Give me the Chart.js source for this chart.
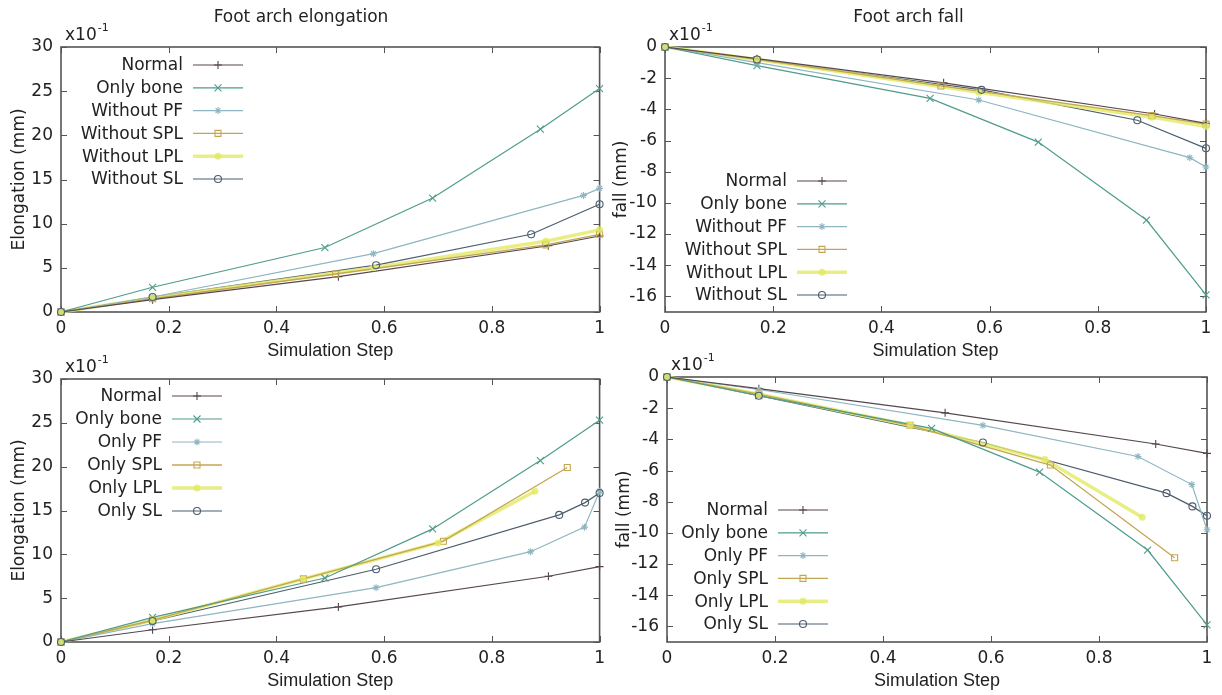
<!DOCTYPE html>
<html lang="en">
<head>
<meta charset="UTF-8">
<title>Foot arch elongation / fall</title>
<script src="https://cdn.jsdelivr.net/npm/chart.js"></script>
<style>
    * { margin: 0; padding: 0; box-sizing: border-box; }
    body { background: #fff; width: 1222px; height: 695px; position: relative; overflow: hidden; }
    .panel { position: absolute; width: 611px; height: 365px; }
</style>
</head>
<body>
<div class="panel" style="left:0;top:0"><canvas id="elongWithout"></canvas></div>
<div class="panel" style="left:611px;top:0"><canvas id="fallWithout"></canvas></div>
<div class="panel" style="left:0;top:330px"><canvas id="elongOnly"></canvas></div>
<div class="panel" style="left:611px;top:330px"><canvas id="fallOnly"></canvas></div>

<script>
// ---- data (values in units of x10^-1 mm) ----
const xTicks = [0, 0.2, 0.4, 0.6, 0.8, 1];
const xTickLabels = ['0', '0.2', '0.4', '0.6', '0.8', '1'];
const elongTicks = [0, 5, 10, 15, 20, 25, 30];
const fallTicks = [0, -2, -4, -6, -8, -10, -12, -14, -16];

const withoutLabels = ['Normal', 'Only bone', 'Without PF', 'Without SPL', 'Without LPL', 'Without SL'];
const onlyLabels = ['Normal', 'Only bone', 'Only PF', 'Only SPL', 'Only LPL', 'Only SL'];

// shared cases
const normalSteps = [0, 0.17, 0.515, 0.905, 1];
const normalElong = [0, 1.4, 4.0, 7.5, 8.6];
const normalFall = [0, -0.75, -2.3, -4.3, -4.9];

const boneSteps = [0, 0.17, 0.49, 0.69, 0.89, 1];
const boneElong = [0, 2.8, 7.3, 12.9, 20.7, 25.3];
const boneFall = [0, -1.2, -3.3, -6.1, -11.1, -15.9];

// "Without" cases
const woPfSteps = [0, 0.17, 0.58, 0.97, 1];
const woPfElong = [0, 1.7, 6.6, 13.2, 14.0];
const woPfFall = [0, -1.0, -3.4, -7.1, -7.7];

const woSplSteps = [0, 0.17, 0.51, 0.9, 1];
const woSplElong = [0, 1.5, 4.3, 7.6, 8.8];
const woSplFall = [0, -0.8, -2.5, -4.4, -4.95];

const woLplSteps = [0, 0.17, 0.58, 0.9, 1];
const woLplElong = [0, 1.6, 5.0, 8.0, 9.3];
const woLplFall = [0, -0.8, -2.9, -4.5, -5.1];

const woSlSteps = [0, 0.17, 0.585, 0.873, 1];
const woSlElong = [0, 1.7, 5.3, 8.8, 12.2];
const woSlFall = [0, -0.8, -2.75, -4.7, -6.5];

// "Only" cases
const onPfSteps = [0, 0.17, 0.585, 0.872, 0.972, 1];
const onPfElong = [0, 2.1, 6.2, 10.3, 13.1, 17.2];
const onPfFall = [0, -0.8, -3.1, -5.1, -6.9, -9.8];

const onSplSteps = [0, 0.17, 0.45, 0.71, 0.94];
const onSplElong = [0, 2.5, 7.2, 11.5, 19.9];
const onSplFall = [0, -1.1, -3.1, -5.65, -11.6];

const onLplSteps = [0, 0.17, 0.45, 0.7, 0.88];
const onLplElong = [0, 2.5, 7.2, 11.3, 17.2];
const onLplFall = [0, -1.1, -3.1, -5.3, -9.0];

const onSlSteps = [0, 0.17, 0.585, 0.925, 0.973, 1];
const onSlElong = [0, 2.4, 8.3, 14.5, 15.9, 17.0];
const onSlFall = [0, -1.2, -4.2, -7.45, -8.3, -8.9];

// ---- styles ----
const seriesStyle = [
    { color: '#56474f', width: 1.2, point: 'cross', r: 4 },
    { color: '#4f9c8c', width: 1.2, point: 'crossRot', r: 3.5 },
    { color: '#8db6c2', width: 1.2, point: 'star', r: 3.5 },
    { color: '#c4a652', width: 1.3, point: 'rect', r: 3 },
    { color: 'rgba(226,234,100,0.8)', width: 3.5, point: 'dot', r: 3.5 },
    { color: '#4c5d6e', width: 1.2, point: 'circle', r: 3.5 }
];

const FONT = 'DejaVu Sans';
const TEXT = '#222';

function toPoints(steps, vals) {
    return steps.map((s, i) => ({ x: s, y: vals[i] }));
}

function drawMarker(ctx, type, x, y, r, color) {
    ctx.save();
    ctx.strokeStyle = color;
    ctx.fillStyle = color;
    ctx.lineWidth = 1.1;
    ctx.beginPath();
    if (type === 'cross') {
        ctx.moveTo(x - r, y); ctx.lineTo(x + r, y);
        ctx.moveTo(x, y - r); ctx.lineTo(x, y + r);
        ctx.stroke();
    } else if (type === 'crossRot') {
        ctx.moveTo(x - r, y - r); ctx.lineTo(x + r, y + r);
        ctx.moveTo(x - r, y + r); ctx.lineTo(x + r, y - r);
        ctx.stroke();
    } else if (type === 'star') {
        ctx.moveTo(x - r, y); ctx.lineTo(x + r, y);
        ctx.moveTo(x, y - r); ctx.lineTo(x, y + r);
        ctx.moveTo(x - r * 0.7, y - r * 0.7); ctx.lineTo(x + r * 0.7, y + r * 0.7);
        ctx.moveTo(x - r * 0.7, y + r * 0.7); ctx.lineTo(x + r * 0.7, y - r * 0.7);
        ctx.stroke();
    } else if (type === 'rect') {
        ctx.rect(x - r, y - r, 2 * r, 2 * r);
        ctx.stroke();
    } else if (type === 'dot') {
        ctx.arc(x, y, r, 0, Math.PI * 2);
        ctx.fill();
    } else {
        ctx.arc(x, y, r, 0, Math.PI * 2);
        ctx.stroke();
    }
    ctx.restore();
}

// box border, inward ticks, exponent label and the gnuplot-like legend
const gnuFrame = {
    id: 'gnuFrame',
    beforeDatasetsDraw(chart) {
        const { ctx, chartArea: a, scales: { x, y } } = chart;
        ctx.save();
        ctx.strokeStyle = '#555';
        ctx.lineWidth = 1;
        ctx.beginPath();
        x.ticks.forEach(t => {
            const px = Math.round(x.getPixelForValue(t.value)) + 0.5;
            ctx.moveTo(px, a.bottom); ctx.lineTo(px, a.bottom - 6);
            ctx.moveTo(px, a.top); ctx.lineTo(px, a.top + 6);
        });
        y.ticks.forEach(t => {
            const py = Math.round(y.getPixelForValue(t.value)) + 0.5;
            ctx.moveTo(a.left, py); ctx.lineTo(a.left + 6, py);
            ctx.moveTo(a.right, py); ctx.lineTo(a.right - 6, py);
        });
        ctx.stroke();
        ctx.lineWidth = 1.6;
        ctx.strokeRect(a.left, a.top, a.right - a.left, a.bottom - a.top);
        ctx.restore();
    },
    afterDraw(chart, args, opts) {
        const { ctx, chartArea: a } = chart;
        ctx.save();
        ctx.fillStyle = TEXT;
        ctx.textBaseline = 'alphabetic';
        ctx.textAlign = 'left';
        ctx.font = '17px "' + FONT + '"';
        ctx.fillText('x10', a.left + 4, a.top - 7);
        const w = ctx.measureText('x10').width;
        ctx.font = '11px "' + FONT + '"';
        ctx.fillText('-1', a.left + 5 + w, a.top - 16);

        ctx.font = '17px "' + FONT + '"';
        ctx.textAlign = 'right';
        ctx.textBaseline = 'middle';
        chart.data.datasets.forEach((ds, i) => {
            const st = seriesStyle[i];
            const yy = opts.rowTop + i * opts.rowGap;
            ctx.fillStyle = TEXT;
            ctx.fillText(ds.label, opts.textRight, yy + 1);
            ctx.strokeStyle = st.color;
            ctx.lineWidth = st.width;
            ctx.beginPath();
            ctx.moveTo(opts.textRight + 10, yy);
            ctx.lineTo(opts.textRight + 60, yy);
            ctx.stroke();
            drawMarker(ctx, st.point, opts.textRight + 35, yy, st.r, st.color);
        });
        ctx.restore();
    }
};

function makeChart(id, cfg) {
    const datasets = cfg.series.map((s, i) => ({
        label: cfg.labels[i],
        data: toPoints(s[0], s[1]),
        showLine: true,
        borderColor: seriesStyle[i].color,
        borderWidth: seriesStyle[i].width,
        backgroundColor: seriesStyle[i].color,
        pointRadius: 0,
        clip: false
    }));

    const markerPlugin = {
        id: 'markers',
        afterDatasetsDraw(chart) {
            const { ctx } = chart;
            chart.data.datasets.forEach((ds, i) => {
                chart.getDatasetMeta(i).data.forEach(el => {
                    drawMarker(ctx, seriesStyle[i].point, el.x, el.y, seriesStyle[i].r, seriesStyle[i].color);
                });
            });
        }
    };

    return new Chart(document.getElementById(id), {
        type: 'scatter',
        data: { datasets: datasets },
        plugins: [gnuFrame, markerPlugin],
        options: {
            responsive: true,
            maintainAspectRatio: false,
            animation: false,
            layout: { padding: { top: cfg.top, right: cfg.right, left: 0, bottom: 0 } },
            plugins: {
                legend: { display: false },
                tooltip: { enabled: false },
                title: {
                    display: !!cfg.title,
                    text: cfg.title,
                    color: TEXT,
                    font: { family: FONT, size: 17, weight: 'normal' },
                    padding: { top: 7, bottom: 47 - 7 - 20.4 - cfg.top }
                },
                gnuFrame: cfg.legend
            },
            scales: {
                x: {
                    type: 'linear',
                    min: 0,
                    max: 1,
                    afterBuildTicks: scale => { scale.ticks = xTicks.map(v => ({ value: v })); },
                    afterFit: scale => { scale.height = 53; },
                    grid: { display: false, drawTicks: false },
                    border: { display: false },
                    ticks: {
                        padding: 6,
                        color: TEXT,
                        font: { family: FONT, size: 17 },
                        callback: (v, i) => xTickLabels[i]
                    },
                    title: {
                        display: true,
                        text: 'Simulation Step',
                        color: TEXT,
                        font: { family: 'Liberation Sans', size: 18 },
                        padding: { top: 0, bottom: 3 }
                    }
                },
                y: {
                    type: 'linear',
                    min: cfg.ymin,
                    max: cfg.ymax,
                    afterBuildTicks: scale => { scale.ticks = cfg.yTicks.map(v => ({ value: v })); },
                    afterFit: scale => { scale.width = cfg.yWidth; },
                    grid: { display: false, drawTicks: false },
                    border: { display: false },
                    ticks: {
                        padding: 8,
                        color: TEXT,
                        font: { family: FONT, size: 17 },
                        callback: v => String(v)
                    },
                    title: {
                        display: true,
                        text: cfg.yTitle,
                        color: TEXT,
                        font: { family: FONT, size: 17 },
                        padding: { top: cfg.yTitlePad, bottom: 0 }
                    }
                }
            }
        }
    });
}

makeChart('elongWithout', {
    title: 'Foot arch elongation',
    labels: withoutLabels,
    series: [[normalSteps, normalElong], [boneSteps, boneElong], [woPfSteps, woPfElong],
             [woSplSteps, woSplElong], [woLplSteps, woLplElong], [woSlSteps, woSlElong]],
    ymin: 0, ymax: 30, yTicks: elongTicks, yTitle: 'Elongation (mm)',
    top: 0, right: 9, yWidth: 61, yTitlePad: 9,
    legend: { textRight: 183, rowTop: 65, rowGap: 22.8 }
});

makeChart('fallWithout', {
    title: 'Foot arch fall',
    labels: withoutLabels,
    series: [[normalSteps, normalFall], [boneSteps, boneFall], [woPfSteps, woPfFall],
             [woSplSteps, woSplFall], [woLplSteps, woLplFall], [woSlSteps, woSlFall]],
    ymin: -17, ymax: 0, yTicks: fallTicks, yTitle: 'fall (mm)',
    top: 0, right: 16, yWidth: 54, yTitlePad: 0,
    legend: { textRight: 176, rowTop: 181, rowGap: 22.8 }
});

makeChart('elongOnly', {
    title: '',
    labels: onlyLabels,
    series: [[normalSteps, normalElong], [boneSteps, boneElong], [onPfSteps, onPfElong],
             [onSplSteps, onSplElong], [onLplSteps, onLplElong], [onSlSteps, onSlElong]],
    ymin: 0, ymax: 30, yTicks: elongTicks, yTitle: 'Elongation (mm)',
    top: 49, right: 9, yWidth: 61, yTitlePad: 9,
    legend: { textRight: 162, rowTop: 66, rowGap: 23 }
});

makeChart('fallOnly', {
    title: '',
    labels: onlyLabels,
    series: [[normalSteps, normalFall], [boneSteps, boneFall], [onPfSteps, onPfFall],
             [onSplSteps, onSplFall], [onLplSteps, onLplFall], [onSlSteps, onSlFall]],
    ymin: -17, ymax: 0, yTicks: fallTicks, yTitle: 'fall (mm)',
    top: 47, right: 15, yWidth: 56, yTitlePad: 3,
    legend: { textRight: 157, rowTop: 180, rowGap: 22.8 }
});
</script>
</body>
</html>
